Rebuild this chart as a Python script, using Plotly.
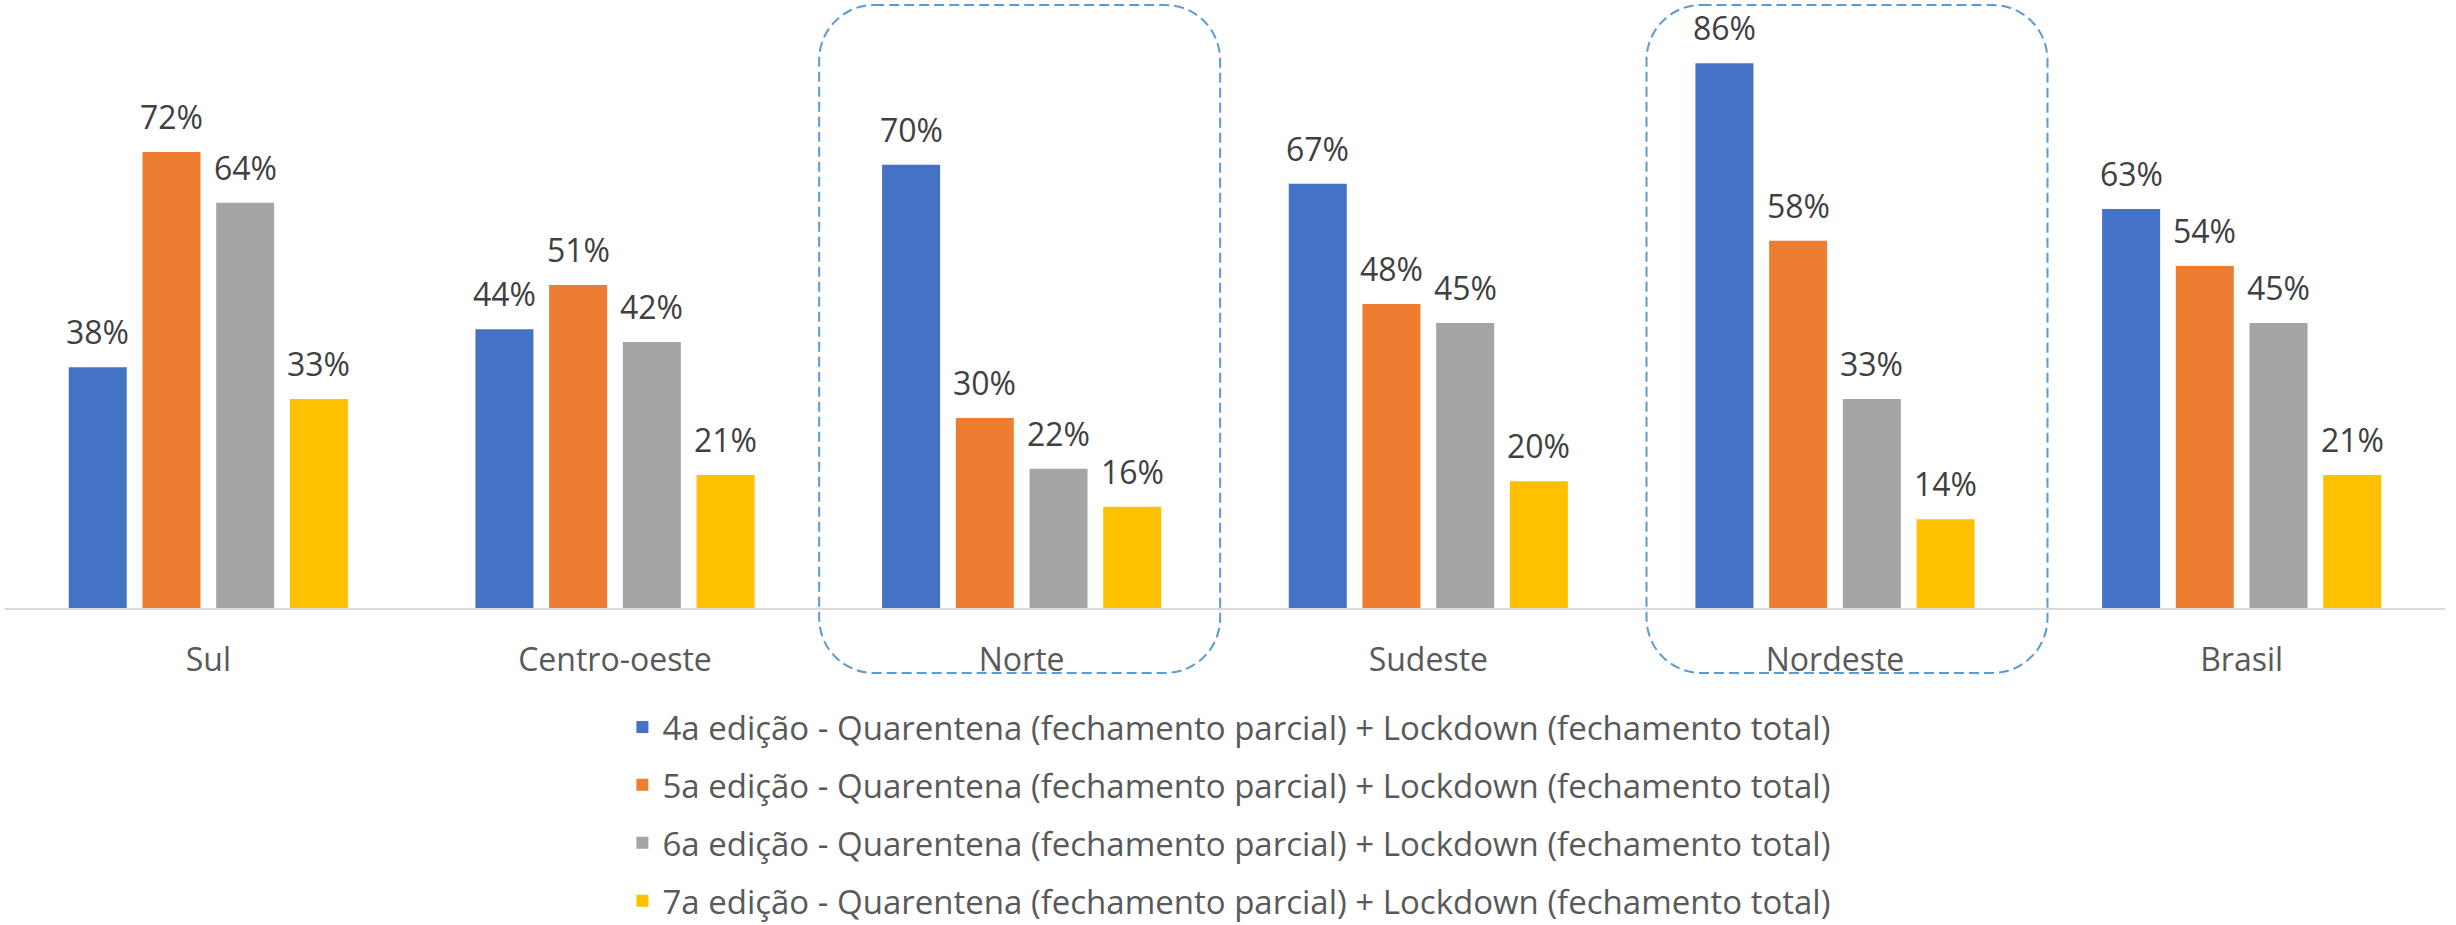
import plotly.graph_objects as go

# ---- data ----
categories = ["Sul", "Centro-oeste", "Norte", "Sudeste", "Nordeste", "Brasil"]
series_names = [
    "4a edição - Quarentena (fechamento parcial) + Lockdown (fechamento total)",
    "5a edição - Quarentena (fechamento parcial) + Lockdown (fechamento total)",
    "6a edição - Quarentena (fechamento parcial) + Lockdown (fechamento total)",
    "7a edição - Quarentena (fechamento parcial) + Lockdown (fechamento total)",
]
ed4 = [38, 44, 70, 67, 86, 63]
ed5 = [72, 51, 30, 48, 58, 54]
ed6 = [64, 42, 22, 45, 33, 45]
ed7 = [33, 21, 16, 20, 14, 21]
series_values = [ed4, ed5, ed6, ed7]
colors = ["#4472C4", "#ED7D31", "#A5A5A5", "#FFC000"]
highlighted = ["Norte", "Nordeste"]
box_shift_px = [-2, 12]

# ---- layout constants ----
W, H = 2456, 925
ML, MR, MT, MB = 4.6, 11.4, 0, 317
PW = W - ML - MR
PH = H - MT - MB
YMAX = 96
FONT = "Open Sans"
BARGAP, BARGROUPGAP = 0.275, 0.213

n = len(categories)
ns = len(series_names)
cat_px = PW / n
slot_px = cat_px * (1 - BARGAP) / ns

fig = go.Figure()
for j, (name, vals, col) in enumerate(zip(series_names, series_values, colors)):
    fig.add_trace(go.Bar(
        x=categories, y=vals, name=name, marker_color=col,
        marker_line_width=0, legendgroup=name,
        hovertemplate="%{x}: %{y}%<extra></extra>",
    ))
    for c, v in zip(categories, vals):
        fig.add_annotation(
            x=c, y=v, xref="x", yref="y", text=f"{v}%", showarrow=False,
            xanchor="center", yanchor="bottom",
            xshift=(j - (ns - 1) / 2) * slot_px, yshift=12,
            font=dict(family=FONT, size=32, color="#404040"),
        )

# rounded dashed boxes around highlighted categories
r_px = 55
rx, ry = r_px / PW, r_px / PH
k = 0.5523
for cat, sh in zip(highlighted, box_shift_px):
    i = categories.index(cat)
    cx = (i + 0.5) / n + sh / PW
    hw = 0.493 / n
    x0, x1 = cx - hw, cx + hw
    y1 = (PH - 5) / PH          # top (paper)
    y0 = (PH - 673) / PH        # bottom (paper)
    path = (
        f"M{x0+rx},{y1} L{x1-rx},{y1} "
        f"C{x1-rx*(1-k)},{y1} {x1},{y1-ry*(1-k)} {x1},{y1-ry} "
        f"L{x1},{y0+ry} "
        f"C{x1},{y0+ry*(1-k)} {x1-rx*(1-k)},{y0} {x1-rx},{y0} "
        f"L{x0+rx},{y0} "
        f"C{x0+rx*(1-k)},{y0} {x0},{y0+ry*(1-k)} {x0},{y0+ry} "
        f"L{x0},{y1-ry} "
        f"C{x0},{y1-ry*(1-k)} {x0+rx*(1-k)},{y1} {x0+rx},{y1} Z"
    )
    fig.add_shape(type="path", path=path, xref="paper", yref="paper",
                  line=dict(color="#5B9BD5", width=2, dash="10px,5px"),
                  fillcolor="rgba(0,0,0,0)", layer="above")

fig.update_layout(
    width=W, height=H, autosize=False,
    margin=dict(l=ML, r=MR, t=MT, b=MB, pad=0, autoexpand=False),
    paper_bgcolor="white", plot_bgcolor="white",
    barmode="group", bargap=BARGAP, bargroupgap=BARGROUPGAP,
    font=dict(family=FONT, color="#595959"),
    xaxis=dict(showline=True, linecolor="#D9D9D9", linewidth=2,
               showgrid=False, zeroline=False, ticks="",
               tickfont=dict(family=FONT, size=32, color="#595959"),
               ticklabelstandoff=23, range=[-0.5, n - 0.5],
               automargin=False),
    yaxis=dict(range=[0, YMAX], visible=False, showgrid=False,
               automargin=False),
    legend=dict(orientation="v", x=(622 - ML) / PW, xanchor="left",
                y=(PH - 699) / PH, yanchor="top",
                font=dict(family=FONT, size=33, color="#595959"),
                traceorder="grouped", tracegroupgap=12, itemwidth=30,
                bgcolor="rgba(0,0,0,0)"),
    showlegend=True,
)

fig.write_html(
    "out.html",
    config={"displayModeBar": False},
    post_script="document.body.style.margin='0';document.body.style.padding='0';"
                "document.body.style.overflow='hidden';",
)
